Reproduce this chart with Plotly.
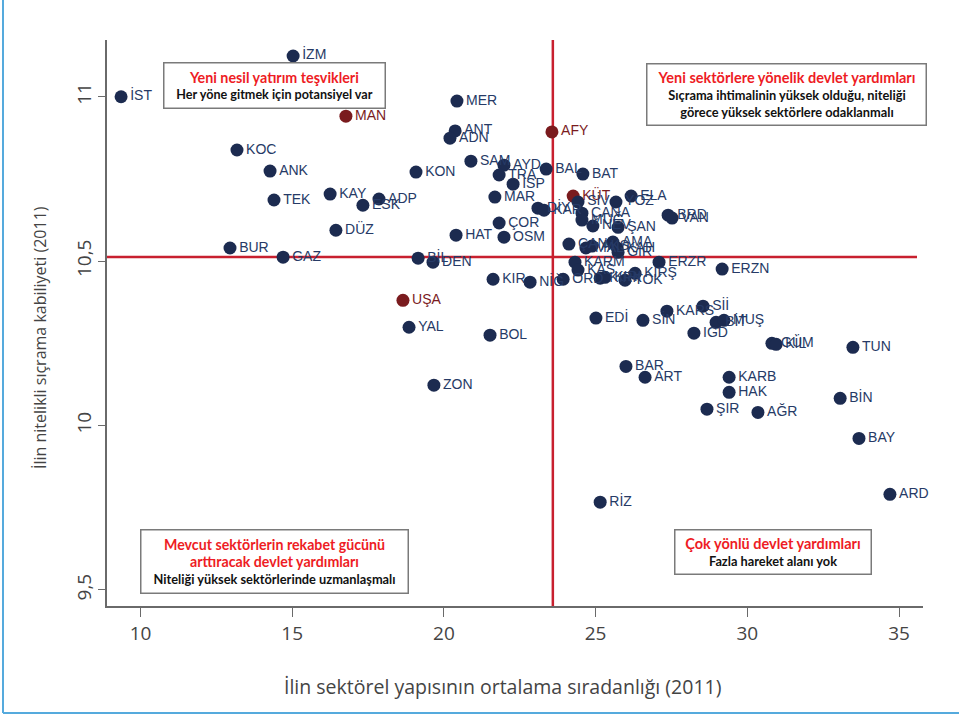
import plotly.graph_objects as go

# ---------------- data ----------------
codes = ["İST", "İZM", "MAN", "KOC", "ANK", "TEK", "KAY", "ESK", "ADP", "DÜZ",
         "BUR", "GAZ", "MER", "ANT", "ADN", "SAM", "KON", "AYD", "TRA", "İSP",
         "BAL", "BAT", "AFY", "MAR", "KÜT", "ELA", "YOZ", "SİV", "DİY", "KAR",
         "ÇANA", "MUĞ", "NEV", "ŞAN", "BRD", "VAN", "ÇOR", "HAT", "OSM", "ÇAN",
         "MAL", "AKS", "AMA", "KAH", "GİR", "KARM", "KAS", "ERZR", "ERZN", "KIRŞ",
         "TOK", "KIRK", "KIRI", "ORD", "NİĞ", "KIR", "BİL", "DEN", "UŞA", "YAL",
         "BOL", "ZON", "EDİ", "SİN", "KARS", "Sİİ", "BİT", "MUŞ", "IGD", "GÜM",
         "KİL", "TUN", "BAR", "ART", "KARB", "HAK", "BİN", "ŞIR", "AĞR", "BAY",
         "RİZ", "ARD"]

x_vals = [9.36, 15.03, 16.77, 13.18, 14.27, 14.40, 16.25, 17.33, 17.86, 16.44,
          12.95, 14.70, 20.43, 20.37, 20.20, 20.89, 19.08, 21.98, 21.82, 22.28,
          23.37, 24.58, 23.56, 21.68, 24.26, 26.17, 25.67, 24.42, 23.10, 23.30,
          24.55, 24.55, 24.91, 25.74, 27.39, 27.52, 21.82, 20.40, 21.98, 24.12,
          24.68, 24.88, 25.57, 25.71, 25.74, 24.32, 24.42, 27.09, 29.17, 26.30,
          25.97, 25.15, 25.31, 23.93, 22.84, 21.62, 19.15, 19.64, 18.65, 18.85,
          21.52, 19.67, 25.01, 26.56, 27.35, 28.54, 28.97, 29.23, 28.24, 30.81,
          30.95, 33.48, 26.00, 26.63, 29.40, 29.40, 33.06, 28.67, 30.35, 33.68,
          25.15, 34.70]

y_vals = [11.000, 11.124, 10.941, 10.838, 10.774, 10.686, 10.704, 10.670, 10.689, 10.594,
          10.540, 10.512, 10.987, 10.896, 10.874, 10.804, 10.771, 10.792, 10.762, 10.734,
          10.780, 10.765, 10.893, 10.695, 10.698, 10.698, 10.680, 10.680, 10.661, 10.655,
          10.646, 10.625, 10.607, 10.603, 10.640, 10.631, 10.616, 10.579, 10.573, 10.552,
          10.540, 10.546, 10.558, 10.540, 10.527, 10.497, 10.473, 10.497, 10.476, 10.463,
          10.442, 10.448, 10.451, 10.445, 10.436, 10.445, 10.509, 10.497, 10.381, 10.299,
          10.275, 10.123, 10.327, 10.320, 10.348, 10.363, 10.314, 10.320, 10.281, 10.250,
          10.247, 10.238, 10.180, 10.147, 10.147, 10.101, 10.083, 10.050, 10.040, 9.961,
          9.767, 9.791]

highlighted = ["MAN", "AFY", "KÜT", "UŞA"]

x_ref_line = 23.59
y_ref_line = 10.513

x_ticks = [10, 15, 20, 25, 30, 35]
y_ticks = [9.5, 10, 10.5, 11]

x_title = "İlin sektörel yapısının ortalama sıradanlığı (2011)"
y_title = "İlin nitelikli sıçrama kabiliyeti (2011)"

boxes = [
    (["Yeni nesil yatırım teşvikleri"], ["Her yöne gitmek için potansiyel var"]),
    (["Yeni sektörlere yönelik devlet yardımları"],
     ["Sıçrama ihtimalinin yüksek olduğu, niteliği", "görece yüksek sektörlere odaklanmalı"]),
    (["Mevcut sektörlerin rekabet gücünü", "arttıracak devlet yardımları"],
     ["Niteliği yüksek sektörlerinde uzmanlaşmalı"]),
    (["Çok yönlü devlet yardımları"], ["Fazla hareket alanı yok"]),
]

# ---------------- layout geometry (pixels) ----------------
W, H = 959, 716
L, R, T, B = 107, 923, 40, 606
pw, ph = R - L, B - T


def px(xp):
    return (xp - L) / pw


def py(yp):
    return (B - yp) / ph


NAVY = "#1c2b50"
DARKRED = "#7a1b1e"
LABEL_NAVY = "#263a66"

# ---------------- figure ----------------
marker_colors = [DARKRED if c in highlighted else NAVY for c in codes]
text_colors = [DARKRED if c in highlighted else LABEL_NAVY for c in codes]

fig = go.Figure()
fig.add_trace(go.Scatter(
    x=x_vals, y=y_vals, mode="markers+text", text=codes,
    textposition="middle right",
    textfont=dict(family="Liberation Sans, Arial, sans-serif", size=14, color=text_colors),
    marker=dict(size=13, color=marker_colors, line=dict(width=0)),
    hoverinfo="text", showlegend=False, cliponaxis=False,
))

shapes = [
    dict(type="line", xref="x", yref="paper", x0=x_ref_line, x1=x_ref_line, y0=0, y1=1,
         line=dict(color="#c8202f", width=2.5), layer="below"),
    dict(type="line", xref="paper", yref="y", x0=0, x1=px(917), y0=y_ref_line, y1=y_ref_line,
         line=dict(color="#c8202f", width=2.5), layer="below"),
    # outer light-blue frame
    dict(type="line", xref="paper", yref="paper", x0=px(3), x1=px(3), y0=py(713), y1=py(-5),
         line=dict(color="#55aadd", width=2)),
    dict(type="line", xref="paper", yref="paper", x0=px(3), x1=px(965), y0=py(713), y1=py(713),
         line=dict(color="#55aadd", width=2)),
]

annotations = []
box_geom = [
    # (cx, cy, w, h, title size, body size)
    (274, 85.5, 222, 46, 14.3, 12.6),
    (786, 94, 280, 62, 14.5, 12.8),
    (274, 561, 268, 64, 14.2, 12.8),
    (772.5, 551.5, 197, 45, 14.5, 12.8),
]
for (titles, bodies), (cx, cy, bw, bh, ts, bs) in zip(boxes, box_geom):
    parts = [f"<span style='color:#ee1c24;font-size:{ts}px'><b>{t}</b></span>" for t in titles]
    parts += [f"<span style='color:#111111;font-size:{bs}px'><b>{b}</b></span>" for b in bodies]
    annotations.append(dict(
        xref="paper", yref="paper", x=px(cx), y=py(cy), xanchor="center", yanchor="middle",
        text="<br>".join(parts), showarrow=False, align="center", valign="middle",
        font=dict(family="Lato, Carlito, sans-serif", size=bs),
        bgcolor="white", bordercolor="#7a7a7a", borderwidth=1.5, borderpad=0,
        width=bw - 2, height=bh - 2,
    ))

annotations.append(dict(
    xref="paper", yref="paper", x=px(502), y=py(686), xanchor="center", yanchor="middle",
    text=x_title, showarrow=False,
    font=dict(family="Open Sans, sans-serif", size=19.5, color="#444444"),
))
annotations.append(dict(
    xref="paper", yref="paper", x=px(40), y=py(338), xanchor="center", yanchor="middle",
    text=y_title, showarrow=False, textangle=-90,
    font=dict(family="Open Sans, sans-serif", size=16, color="#444444"),
))

axis_common = dict(
    showline=True, linecolor="#6a6a6a", linewidth=1.5, mirror=False,
    ticks="outside", tickcolor="#6a6a6a", tickwidth=1.2,
    showgrid=False, zeroline=False,
    tickfont=dict(family="Open Sans, sans-serif", size=19, color="#444444"),
)

fig.update_layout(
    width=W, height=H,
    margin=dict(l=L, r=W - R, t=T, b=H - B),
    paper_bgcolor="white", plot_bgcolor="white",
    separators=",.",
    xaxis=dict(range=[8.896, 35.79], tickvals=x_ticks, ticklen=9, **axis_common),
    yaxis=dict(range=[9.4513, 11.1726], tickvals=y_ticks, ticklen=7, tickangle=-90, **axis_common),
    shapes=shapes, annotations=annotations,
)

fig.write_html("out.html", config={"displayModeBar": False},
               post_script="document.body.style.margin='0px';document.body.style.overflow='hidden';")
